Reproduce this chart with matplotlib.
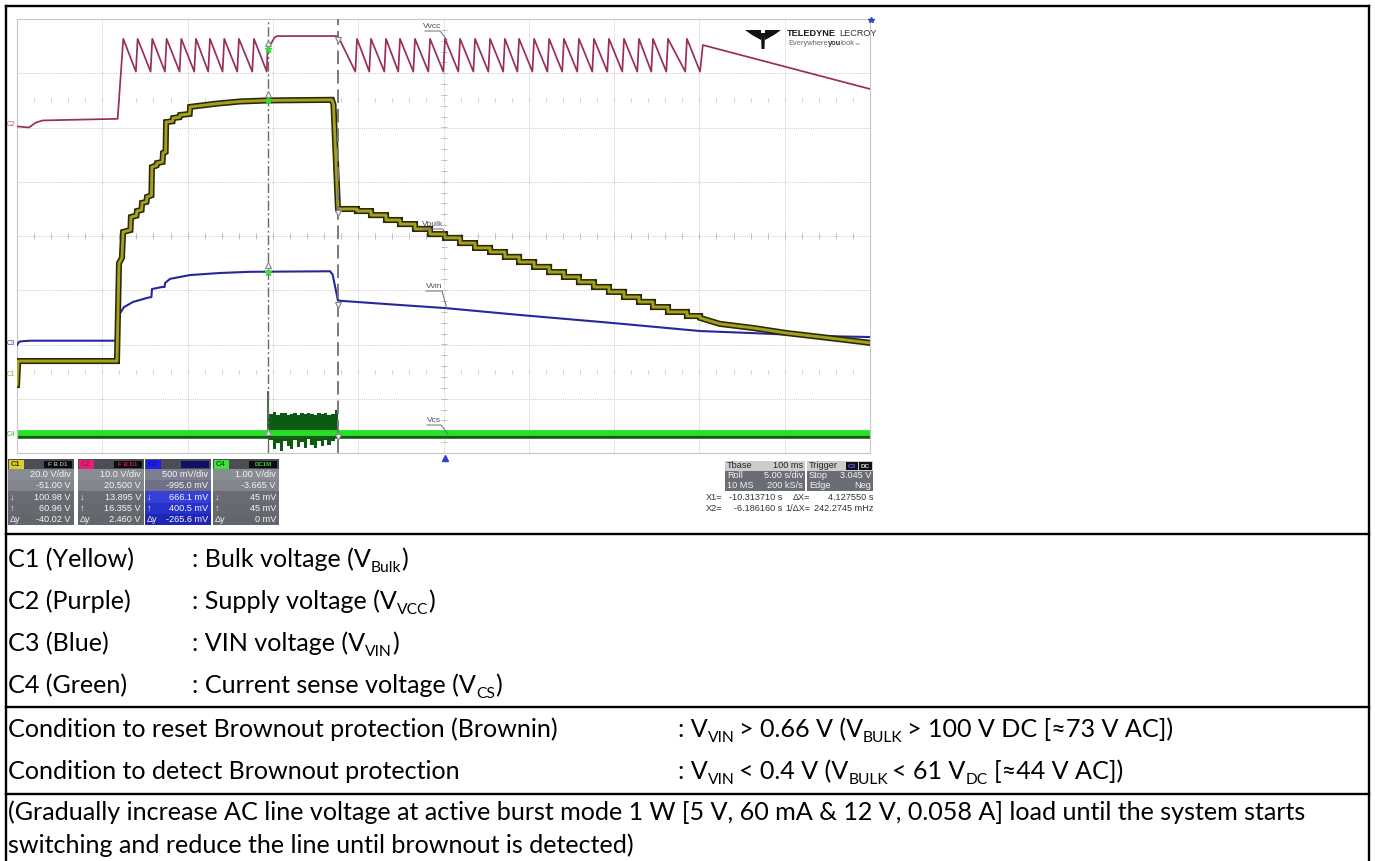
import numpy as np
import matplotlib
matplotlib.use('Agg')
import matplotlib.pyplot as plt
from matplotlib.patches import Rectangle, Polygon
from matplotlib.transforms import blended_transform_factory

W, H = 1375, 861
DOC_FONT = ['Lato', 'DejaVu Sans']
SCOPE_FONT = ['Liberation Sans', 'DejaVu Sans']

# ---------------- scope data (time in s, 5 s/div, trigger at centre) ----------------
X1, X2 = -10.313710, -6.186160

# channel scale (V/div) and offset (V)
ch_scale = {'C1': 20.0, 'C2': 10.0, 'C3': 0.5, 'C4': 1.0}
ch_offset = {'C1': -51.0, 'C2': 20.5, 'C3': -0.995, 'C4': -3.665}

# cursor readouts at X1 / X2
cur_x1 = {'C1': 100.98, 'C2': 13.895, 'C3': 0.6661, 'C4': 0.045}
cur_x2 = {'C1': 60.96, 'C2': 16.355, 'C3': 0.4005, 'C4': 0.045}

# C2 - Vcc (sawtooth hiccup)
vcc_start_t = [-25.0, -24.3, -23.9, -23.5, -19.1]
vcc_start_v = [-0.3, -0.5, 0.4, 0.8, 1.1]
vcc_peaks_a = [-18.77, -17.93, -17.07, -16.23, -15.37, -14.51, -13.69, -12.85, -11.99, -11.11]
vcc_hold_t = [-10.36, X1, -9.9, -9.75, X2]
vcc_hold_v = [9.8, 13.9, 16.1, 16.35, 16.36]
vcc_peaks_b = [-5.07, -4.25, -3.37, -2.55, -1.67, -0.79, 0.09, 0.97, 1.85, 2.73, 3.60, 4.43,
               5.31, 6.19, 7.06, 7.94, 8.82, 9.70, 10.58, 11.46, 12.28, 13.16, 14.27]
vcc_tail_t = [15.04, 15.2, 25.0]
vcc_tail_v = [9.8, 14.7, 6.6]
VCC_HI, VCC_LO = 15.85, 9.8

# C1 - bulk voltage
bulk_rise_t = [-25.0, -24.93, -19.14, -19.02, -18.85, -18.78, -18.35, -18.32, -18.0, -17.97,
               -17.7, -17.67, -17.41, -17.38, -17.12, -17.09, -16.82, -16.79, -16.47, -16.44,
               -16.29, -16.26, -15.88, -15.85, -15.47, -15.44, -14.88, -14.85, -13.3, -11.9,
               X1, -6.54, -6.45, X2]
bulk_rise_v = [-3.9, 4.9, 4.9, 41.0, 42.9, 52.5, 53.2, 58.0, 58.5, 60.2,
               60.6, 63.2, 63.6, 65.4, 66.0, 76.4, 77.0, 77.9, 78.3, 81.6,
               82.0, 93.0, 93.3, 94.5, 94.8, 95.6, 96.0, 98.6, 99.8, 100.6,
               100.98, 101.2, 99.5, 60.96]
bulk_levels = [60.96, 60.2, 58.7, 56.9, 55.4, 53.6, 51.7, 50.3, 48.4, 46.6, 45.1, 43.3,
               41.4, 39.6, 37.7, 35.9, 34.0, 32.2, 30.4, 28.5, 26.7, 24.8, 23.0, 21.5]
bulk_tail_t = [15.04, 16.2, 18.14, 20.14, 22.07, 24.88, 25.0]
bulk_tail_v = [20.8, 18.6, 17.1, 15.2, 13.8, 11.7, 11.6]

# C3 - VIN
vin_t = [-25.0, -24.88, -24.7, -24.24, -19.08, -19.02, -18.73, -18.2, -17.38, -17.12, -17.09,
         -16.5, -16.35, -16.32, -16.03, -14.86, -13.1, -11.34, X1, -6.65, -6.5, X2, -5.89,
         -2.55, 0.09, 4.48, 9.94, 15.04, 18.14, 22.07, 25.0]
vin_v = [-0.01, 0.02, 0.025, 0.03, 0.03, 0.267, 0.34, 0.387, 0.424, 0.433, 0.506,
         0.525, 0.525, 0.562, 0.60, 0.635, 0.654, 0.665, 0.666, 0.67, 0.64, 0.4005, 0.396,
         0.359, 0.331, 0.267, 0.193, 0.119, 0.10, 0.073, 0.064]

# C4 - current sense
vcs_t = [-25.0, 25.0]
vcs_v = [0.034, 0.034]
vcs_under_v = [-0.048, -0.048]
burst_t = [X1, -10.1, -9.9, -9.7, -9.5, -9.3, -9.1, -8.9, -8.7, -8.5, -8.3, -8.1, -7.9,
           -7.7, -7.5, -7.3, -7.1, -6.9, -6.7, -6.5, X2]
burst_hi = [0.40, 0.38, 0.42, 0.37, 0.40, 0.41, 0.36, 0.39, 0.40, 0.37, 0.41,
            0.38, 0.40, 0.39, 0.36, 0.41, 0.38, 0.40, 0.37, 0.39, 0.45]
burst_lo = [-0.28, -0.10, -0.26, -0.15, -0.30, -0.12, -0.20, -0.27, -0.10, -0.22, -0.14,
            -0.25, -0.08, -0.18, -0.24, -0.11, -0.21, -0.09, -0.19, -0.12, -0.05]
vcs_spike = 0.79

# channel readout boxes
box_tags = ['C1', 'C2', 'C3', 'C4']
box_vdiv = ['20.0 V/div', '10.0 V/div', '500 mV/div', '1.00 V/div']
box_offs = ['-51.00 V', '20.500 V', '-995.0 mV', '-3.665 V']
box_down = ['100.98 V', '13.895 V', '666.1 mV', '45 mV']
box_up = ['60.96 V', '16.355 V', '400.5 mV', '45 mV']
box_dy = ['-40.02 V', '2.460 V', '-265.6 mV', '0 mV']

# document table text
chan_names = ['C1 (Yellow)', 'C2 (Purple)', 'C3 (Blue)', 'C4 (Green)']
chan_desc = ['Bulk voltage', 'Supply voltage', 'VIN voltage', 'Current sense voltage']
chan_sub = ['Bulk', 'VCC', 'VIN', 'CS']
cond_labels = ['Condition to reset Brownout protection (Brownin)',
               'Condition to detect Brownout protection']
note_lines = ['(Gradually increase AC line voltage at active burst mode 1 W [5 V, 60 mA & 12 V, '
              '0.058 A] load until the system starts',
              'switching and reduce the line until brownout is detected)']


def div(ch, v):
    return (np.asarray(v, dtype=float) + ch_offset[ch]) / ch_scale[ch]


def sawtooth(peaks, lead_trough):
    t, v = [], []
    for i, pk in enumerate(peaks):
        if i > 0 or lead_trough:
            t.append(pk - 0.1)
            v.append(VCC_LO)
        t.append(pk)
        v.append(VCC_HI)
    return t, v


fig = plt.figure(figsize=(W / 100, H / 100), dpi=100)
fig.patch.set_facecolor('white')
renderer = fig.canvas.get_renderer()

# ---------------- scope screen ----------------
ax = fig.add_axes([17 / W, 1 - 453 / H, 853 / W, 434 / H], zorder=1)
ax.set_xlim(-25, 25)
ax.set_ylim(-4, 4)
ax.set_xticks([])
ax.set_yticks([])
for s in ax.spines.values():
    s.set_color('#c6c6c6')
    s.set_linewidth(0.8)

grid_kw = dict(color='#c8c8c8', lw=0.7, ls=(0, (1, 1.2)), zorder=0)
for k in range(1, 10):
    ax.axvline(-25 + 5 * k, **grid_kw)
for k in range(-3, 4):
    ax.axhline(k, **grid_kw)
tick_t = np.arange(-25, 25.01, 1.0)
tick_d = np.arange(-4, 4.01, 0.2)
ax.plot(tick_t, np.zeros_like(tick_t), '|', ms=4, color='#bdbdbd', mew=0.7, zorder=0)
ax.plot(np.zeros_like(tick_d), tick_d, '_', ms=4, color='#bdbdbd', mew=0.7, zorder=0)
for yy in (2.5, -2.5):
    ax.plot(tick_t, np.full_like(tick_t, yy), '|', ms=2.5, color='#cdcdcd', mew=0.7, zorder=0)

# C4 current sense
ax.fill_between(burst_t, div('C4', burst_lo), div('C4', burst_hi), step='mid',
                color='#0f5a12', lw=0, zorder=2)
ax.plot([X1, X1], div('C4', [vcs_v[0], vcs_spike]), color='#0f5a12', lw=1.2, zorder=2)
ax.plot(vcs_t, div('C4', vcs_under_v), color='#145c14', lw=2.6, zorder=2)
ax.plot(vcs_t, div('C4', vcs_v), color='#27e027', lw=4.2, zorder=2.1)

# C3 VIN
ax.plot(vin_t, div('C3', vin_v), color='#27279c', lw=1.5, zorder=3)

# C2 Vcc
sa_t, sa_v = sawtooth(vcc_peaks_a, False)
sb_t, sb_v = sawtooth(vcc_peaks_b, True)
vcc_t = vcc_start_t + sa_t + vcc_hold_t + sb_t + vcc_tail_t
vcc_v = vcc_start_v + sa_v + vcc_hold_v + sb_v + vcc_tail_v
ax.plot(vcc_t, div('C2', vcc_v), color='#9a2d5e', lw=1.25, zorder=3)

# C1 bulk staircase
edges = [X2] + vcc_peaks_b + [15.04]
st_t, st_v = [], []
for i, lvl in enumerate(bulk_levels):
    st_t += [edges[i], edges[i + 1]]
    st_v += [lvl, lvl]
bulk_t = bulk_rise_t + st_t + bulk_tail_t
bulk_v = bulk_rise_v + st_v + bulk_tail_v
ax.plot(bulk_t, div('C1', bulk_v), color='#2a2906', lw=4.4, zorder=4, solid_joinstyle='miter')
ax.plot(bulk_t, div('C1', bulk_v), color='#a49f1e', lw=2.1, zorder=4.1)

# cursors
ax.axvline(X1, color='#6a6a6a', lw=1.0, ls=(0, (7, 2, 1.5, 2)), zorder=5)
ax.axvline(X2, color='#7a7a7a', lw=1.4, ls=(0, (7, 3)), zorder=5)
for ch in ('C2', 'C1', 'C3'):
    ax.plot(X1, div(ch, cur_x1[ch]) + 0.12, marker='^', ms=5, mfc='#eeeeee', mec='#888888', mew=0.8, zorder=6)
    ax.plot(X1, div(ch, cur_x1[ch]), marker='*', ms=5, color='#33dd33', zorder=6)
for ch in ('C2', 'C1', 'C3', 'C4'):
    ax.plot(X2, div(ch, cur_x2[ch]) - 0.08, marker='v', ms=5, mfc='#f2f2f2', mec='#888888', mew=0.8, zorder=6)
ax.plot(X1, div('C4', cur_x1['C4']), marker='^', ms=4, mfc='#dddddd', mec='#888888', mew=0.7, zorder=6)


# trace labels with leader lines (pixel positions converted to screen units)
def pxd(px, py):
    return (px - 443.5) * 50 / 853, (236 - py) / 54.25


label_specs = [('Vvcc', (432, 27), (425, 440, 31), (447, 40)),
               ('Vbulk', (433, 225), (424, 443, 229), (446, 237)),
               ('Vvin', (434, 286), (426, 442, 291), (447, 309)),
               ('Vcs', (434, 420), (427, 441, 425), (448, 434))]
for name, (lx, ly), (u0, u1, uy), (ex, ey) in label_specs:
    tx, ty = pxd(lx, ly)
    ax.text(tx, ty, name, fontsize=6, color='#4a4a66', ha='center', va='center',
            family=SCOPE_FONT, zorder=7)
    a, b = pxd(u0, uy)
    c, _ = pxd(u1, uy)
    e, f = pxd(ex, ey)
    ax.plot([a, c, e], [b, b, f], color='#6a6a80', lw=0.7, zorder=7)

# ground markers at left edge
bt = blended_transform_factory(ax.transAxes, ax.transData)
for ch, col in (('C2', '#d8458a'), ('C3', '#3a3ab8'), ('C1', '#b0a820'), ('C4', '#26c026')):
    ax.text(-0.002, div(ch, 0.0), ch, transform=bt, fontsize=4.8, color=col, ha='right',
            va='center', family=SCOPE_FONT, clip_on=False, zorder=7)

# ---------------- overlay in pixel coordinates ----------------
ov = fig.add_axes([0, 0, 1, 1], zorder=3)
ov.set_xlim(0, W)
ov.set_ylim(H, 0)
ov.axis('off')
ov.patch.set_visible(False)


def seq_text(x, y, parts, **kw):
    # draw text pieces one after another
    for s, size, weight, col, gap in parts:
        t = ov.text(x, y, s, fontsize=size, weight=weight, color=col, va='center', **kw)
        x += t.get_window_extent(renderer).width + gap
    return x


# logo
ov.add_patch(Polygon([(745, 30), (761, 30), (761, 40), (752, 35)], closed=True, fc='#111111', ec='none'))
ov.add_patch(Polygon([(765, 30), (781, 30), (774, 35), (765, 40)], closed=True, fc='#111111', ec='none'))
ov.add_patch(Polygon([(761, 33), (765, 33), (764.5, 49), (761.5, 49)], closed=True, fc='#111111', ec='none'))
seq_text(787, 34, [('TELEDYNE', 6.6, 'bold', '#1a1a1a', 3), ('LECROY', 6.6, 'normal', '#333333', 0)],
         family=SCOPE_FONT)
seq_text(788, 43.5, [('Everywhere', 5.4, 'normal', '#666666', 0), ('you', 5.4, 'bold', '#333333', 0),
                     ('look', 5.4, 'normal', '#666666', 0), ('\u2122', 3.5, 'normal', '#666666', 0)],
         family=SCOPE_FONT)
ov.plot(871, 20, marker='*', ms=4, color='#3344cc')
ov.plot(445, 457.5, marker='^', ms=4.5, color='#2f3fd0')

# channel readout boxes
box_x = [8, 78, 145, 213]
tag_col = ['#d8cf2c', '#ea1f7c', '#1e1ee6', '#3ce43c']
tag_txt = ['#3a3600', '#b0104c', '#1212b0', '#0e5a0e']
icon_txt = ['F B D1', 'F B D1', '', 'DC1M']
icon_col = ['#9a9a9a', '#c02050', '#3030c0', '#40d040']
SF = 6.6
for i, tag in enumerate(box_tags):
    x0 = box_x[i]
    x1 = x0 + 66
    ov.add_patch(Rectangle((x0, 459), 66, 10, fc='#4c4e55', ec='none'))
    for r in range(5):
        y = 469 + r * 11.2
        if tag == 'C3':
            fc = ['#7d7f90', '#6f7186', '#3440d8', '#2832c8', '#1e26b4'][r]
        else:
            fc = ['#8a8c94', '#83858d', '#6a6c74', '#676971', '#64666e'][r]
        ov.add_patch(Rectangle((x0, y), 66, 11.2, fc=fc, ec='none'))
    ov.add_patch(Rectangle((x0 + 1, 460), 15, 8.5, fc=tag_col[i], ec='none'))
    ov.text(x0 + 3, 464.3, tag, fontsize=5.5, color=tag_txt[i], va='center', weight='bold', family=SCOPE_FONT)
    ov.add_patch(Rectangle((x1 - 30, 460.5), 28, 7.5, fc='#0c0c0c' if tag != 'C3' else '#101060', ec='none'))
    ov.text(x1 - 16, 464.3, icon_txt[i], fontsize=4.4, color=icon_col[i], va='center', ha='center',
            weight='bold', family=SCOPE_FONT)
    vals = [box_vdiv[i], box_offs[i], box_down[i], box_up[i], box_dy[i]]
    for r, s in enumerate(vals):
        yc = 469 + r * 11.2 + 5.6
        ov.text(x1 - 3, yc, s, fontsize=SF, color='#f6f6f6', ha='right', va='center', family=SCOPE_FONT)
    for r, s in ((2, '\u2193'), (3, '\u2191'), (4, '\u0394y')):
        ov.text(x0 + 2, 469 + r * 11.2 + 5.6, s, fontsize=SF, color='#f0f0f0', va='center', family=SCOPE_FONT)

# timebase / trigger boxes
for bx0, bx1, rows in ((725, 805, [('Tbase', '100 ms'), ('Roll', '5.00 s/div'), ('10 MS', '200 kS/s')]),
                       (807, 873, [('Trigger', ''), ('Stop', '3.045 V'), ('Edge', 'Neg')])):
    for r, (lt, rt) in enumerate(rows):
        y = 461 + r * 10
        ov.add_patch(Rectangle((bx0, y), bx1 - bx0, 10, fc='#cccccc' if r == 0 else '#6b6d75', ec='none'))
        col = '#222222' if r == 0 else '#f4f4f4'
        ov.text(bx0 + 2, y + 5, lt, fontsize=SF, color=col, va='center', family=SCOPE_FONT)
        if rt:
            ov.text(bx1 - 2, y + 5, rt, fontsize=SF, color=col, ha='right', va='center', family=SCOPE_FONT)
ov.add_patch(Rectangle((846, 462), 12, 8, fc='#111111', ec='none'))
ov.add_patch(Rectangle((859, 462), 13, 8, fc='#111111', ec='none'))
ov.text(852, 466, 'C3', fontsize=4.6, color='#6060ff', ha='center', va='center', weight='bold', family=SCOPE_FONT)
ov.text(865.5, 466, 'DC', fontsize=4.6, color='#dddddd', ha='center', va='center', weight='bold', family=SCOPE_FONT)

# cursor readouts
for y, a, b, c, d in ((498, 'X1=', '-10.313710 s', '\u0394X=', '4.127550 s'),
                      (508.5, 'X2=', '-6.186160 s', '1/\u0394X=', '242.2745 mHz')):
    ov.text(706, y, a, fontsize=SF, color='#333333', va='center', family=SCOPE_FONT)
    ov.text(782, y, b, fontsize=SF, color='#333333', va='center', ha='right', family=SCOPE_FONT)
    ov.text(810, y, c, fontsize=SF, color='#333333', va='center', ha='right', family=SCOPE_FONT)
    ov.text(873, y, d, fontsize=SF, color='#333333', va='center', ha='right', family=SCOPE_FONT)

# ---------------- document table ----------------
LW = 1.7
ov.plot([6, 1369], [6, 6], color='black', lw=LW, solid_capstyle='projecting')
ov.plot([6, 6], [6, H], color='black', lw=LW)
ov.plot([1369, 1369], [6, H], color='black', lw=LW)
for yy in (534, 707, 794):
    ov.plot([6, 1369], [yy, yy], color='black', lw=LW)


def width_of(s, size):
    t = ov.text(0, 0, s, fontsize=size, family=DOC_FONT)
    w = t.get_window_extent(renderer).width
    t.remove()
    return w


FS = 18 * 1300 / width_of(note_lines[0], 18)
SUB = FS * 0.62
sp = width_of('a a', FS) - width_of('aa', FS)


def rich(x, y, parts):
    for s, sub, gap in parts:
        x += gap
        size = SUB if sub else FS
        t = ov.text(x, y + (FS * 0.26 if sub else 0), s, fontsize=size, family=DOC_FONT,
                    va='baseline', ha='left', color='black')
        x += t.get_window_extent(renderer).width
    return x


row_base = [567, 609, 651, 693]
for i in range(4):
    ov.text(8, row_base[i], chan_names[i], fontsize=FS, family=DOC_FONT, va='baseline')
    rich(192, row_base[i], [(': ' + chan_desc[i] + ' (V', 0, 0), (chan_sub[i], 1, 0), (')', 0, 0)])

g = sp * 0.7
cond_parts = [
    [(': V', 0, 0), ('VIN', 1, 0), ('> 0.66 V (V', 0, g), ('BULK', 1, 0), ('> 100 V DC [\u224873 V AC])', 0, g)],
    [(': V', 0, 0), ('VIN', 1, 0), ('< 0.4 V (V', 0, g), ('BULK', 1, 0), ('< 61 V', 0, g), ('DC', 1, 0),
     ('[\u224844 V AC])', 0, sp)],
]
cond_base = [737, 779]
for i in range(2):
    ov.text(8, cond_base[i], cond_labels[i], fontsize=FS, family=DOC_FONT, va='baseline')
    rich(678, cond_base[i], cond_parts[i])

ov.text(8, 820, note_lines[0], fontsize=FS, family=DOC_FONT, va='baseline')
ov.text(8, 853, note_lines[1], fontsize=FS, family=DOC_FONT, va='baseline')

fig.savefig('out.png', dpi=100, facecolor='white')
